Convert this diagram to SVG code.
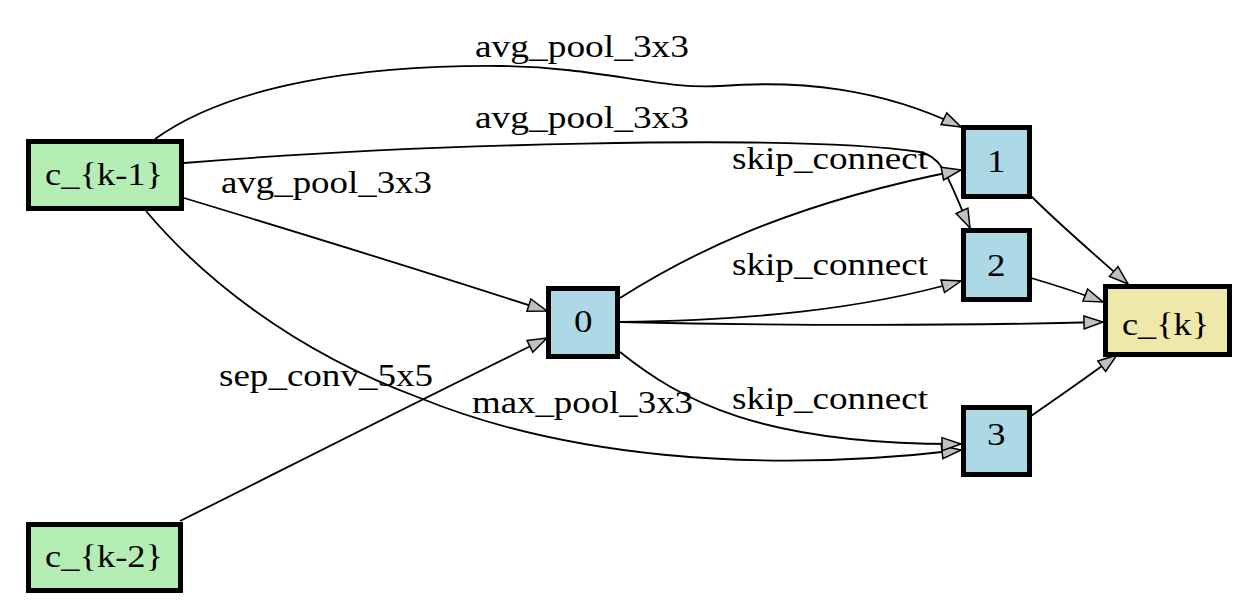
<svg xmlns="http://www.w3.org/2000/svg" width="1258" height="611" viewBox="0 0 1258 611">
<style>
.nd rect{stroke:#000;stroke-width:5}
.in rect{fill:#b4eeb4}
.op rect{fill:#add8e6}
.out rect{fill:#eee8aa}
text{font-family:"Liberation Serif","Times New Roman",Times,serif;font-size:32.5px;fill:#000}
.e path{fill:none;stroke:#000;stroke-width:1.8;marker-end:url(#ah)}
</style>
<defs>
<marker id="ah" markerUnits="userSpaceOnUse" markerWidth="24" markerHeight="18" refX="20" refY="7.5" orient="auto" overflow="visible">
<path d="M1,1 L20,7.5 L1,14 Z" fill="#c0c0c0" stroke="#000" stroke-width="1.5"/>
</marker>
</defs>
<rect width="1258" height="611" fill="#fff"/>
<g id="edges" class="e">
<path d="M155,139 C230,85 360,65 500,66 C600,67 660,90 720,86 C800,80 880,88 961,127"/>
<path d="M184,163 C400,145 790,133 920,152 C945,157 950,185 970,228"/>
<path d="M184,198 C300,233 420,270 547,311"/>
<path d="M146,211 C200,275 290,350 420,398 C560,455 750,475 961,450"/>
<path d="M180,521 C300,461 420,400 547,338"/>
<path d="M620,298 C680,260 780,205 961,170"/>
<path d="M620,322 C750,320 860,310 961,281"/>
<path d="M620,322 C800,326 950,326 1103,322"/>
<path d="M620,352 C680,400 760,445 961,444"/>
<path d="M1031,196 C1060,225 1095,255 1128,284"/>
<path d="M1031,278 C1055,285 1080,293 1103,302"/>
<path d="M1031,416 C1060,396 1090,375 1117,355"/>
</g>
<g id="labels">
<text x="475" y="57" textLength="214" lengthAdjust="spacingAndGlyphs">avg_pool_3x3</text>
<text x="475" y="128" textLength="214" lengthAdjust="spacingAndGlyphs">avg_pool_3x3</text>
<text x="221" y="193" textLength="211" lengthAdjust="spacingAndGlyphs">avg_pool_3x3</text>
<text x="732" y="169" textLength="196" lengthAdjust="spacingAndGlyphs">skip_connect</text>
<text x="732" y="275" textLength="196" lengthAdjust="spacingAndGlyphs">skip_connect</text>
<text x="219" y="386" textLength="214" lengthAdjust="spacingAndGlyphs">sep_conv_5x5</text>
<text x="472" y="413" textLength="221" lengthAdjust="spacingAndGlyphs">max_pool_3x3</text>
<text x="732" y="409" textLength="196" lengthAdjust="spacingAndGlyphs">skip_connect</text>
</g>
<g id="node-ck1" class="nd in"><rect x="28.5" y="141.5" width="153" height="67"/><text x="45" y="185" textLength="118" lengthAdjust="spacingAndGlyphs">c_{k-1}</text></g>
<g id="node-ck2" class="nd in"><rect x="28.5" y="524.5" width="152" height="66"/><text x="45" y="567" textLength="118" lengthAdjust="spacingAndGlyphs">c_{k-2}</text></g>
<g id="node-0" class="nd op"><rect x="548.5" y="288.5" width="69" height="68"/><text x="574" y="332" textLength="18.5" lengthAdjust="spacingAndGlyphs">0</text></g>
<g id="node-1" class="nd op"><rect x="963.5" y="127.5" width="66" height="69"/><text x="987" y="172" textLength="18.5" lengthAdjust="spacingAndGlyphs">1</text></g>
<g id="node-2" class="nd op"><rect x="963.5" y="230.5" width="66" height="69"/><text x="987" y="276" textLength="18.5" lengthAdjust="spacingAndGlyphs">2</text></g>
<g id="node-3" class="nd op"><rect x="963.5" y="407.5" width="66" height="67"/><text x="987" y="445" textLength="18.5" lengthAdjust="spacingAndGlyphs">3</text></g>
<g id="node-ck" class="nd out"><rect x="1105.5" y="286.5" width="124" height="68"/><text x="1122" y="335" textLength="87" lengthAdjust="spacingAndGlyphs">c_{k}</text></g>
</svg>
